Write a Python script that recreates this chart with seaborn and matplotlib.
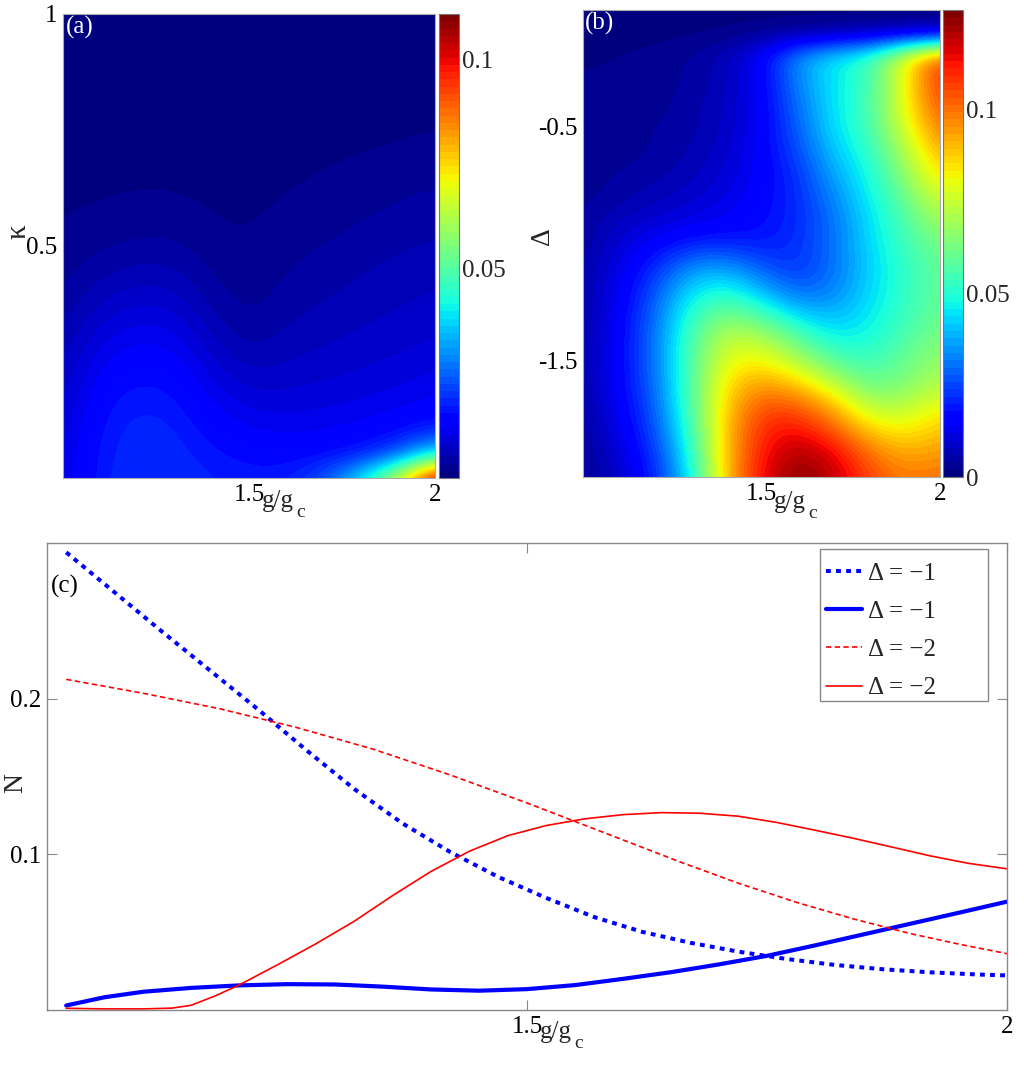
import numpy as np
import pandas as pd
import matplotlib
matplotlib.use("Agg")
import matplotlib.pyplot as plt
from matplotlib.patches import Rectangle
import seaborn as sns

# ---------------- data ----------------
# heat-map grids
g_grid = [1.0, 1.1, 1.2, 1.3, 1.4, 1.5, 1.6, 1.7, 1.8, 1.9, 2.0]
kappa_grid = [1.00, 0.95, 0.90, 0.85, 0.80, 0.75, 0.70, 0.65, 0.60, 0.55, 0.50,
              0.45, 0.40, 0.35, 0.30, 0.25, 0.20, 0.15, 0.10, 0.05, 0.00]
N_kappa = [
    [0.0010, 0.0010, 0.0010, 0.0010, 0.0010, 0.0010, 0.0010, 0.0010, 0.0010, 0.0010, 0.0010],
    [0.0010, 0.0010, 0.0010, 0.0010, 0.0010, 0.0010, 0.0010, 0.0010, 0.0010, 0.0010, 0.0010],
    [0.0010, 0.0010, 0.0010, 0.0010, 0.0010, 0.0010, 0.0010, 0.0010, 0.0010, 0.0010, 0.0010],
    [0.0010, 0.0010, 0.0010, 0.0010, 0.0010, 0.0010, 0.0010, 0.0010, 0.0010, 0.0010, 0.0011],
    [0.0010, 0.0010, 0.0010, 0.0010, 0.0010, 0.0010, 0.0010, 0.0010, 0.0011, 0.0012, 0.0013],
    [0.0011, 0.0011, 0.0011, 0.0011, 0.0011, 0.0011, 0.0011, 0.0012, 0.0013, 0.0015, 0.0017],
    [0.0012, 0.0012, 0.0012, 0.0012, 0.0012, 0.0012, 0.0013, 0.0015, 0.0017, 0.0020, 0.0023],
    [0.0013, 0.0014, 0.0015, 0.0015, 0.0013, 0.0013, 0.0015, 0.0018, 0.0022, 0.0026, 0.0030],
    [0.0015, 0.0017, 0.0019, 0.0019, 0.0015, 0.0014, 0.0018, 0.0023, 0.0028, 0.0034, 0.0040],
    [0.0017, 0.0022, 0.0027, 0.0027, 0.0018, 0.0016, 0.0022, 0.0028, 0.0035, 0.0041, 0.0047],
    [0.0021, 0.0032, 0.0039, 0.0039, 0.0023, 0.0018, 0.0027, 0.0035, 0.0042, 0.0049, 0.0055],
    [0.0026, 0.0046, 0.0057, 0.0056, 0.0031, 0.0021, 0.0034, 0.0042, 0.0050, 0.0057, 0.0063],
    [0.0033, 0.0063, 0.0076, 0.0074, 0.0041, 0.0025, 0.0040, 0.0049, 0.0057, 0.0064, 0.0071],
    [0.0042, 0.0082, 0.0098, 0.0094, 0.0054, 0.0032, 0.0048, 0.0057, 0.0065, 0.0072, 0.0079],
    [0.0052, 0.0102, 0.0120, 0.0114, 0.0071, 0.0043, 0.0058, 0.0066, 0.0073, 0.0080, 0.0088],
    [0.0062, 0.0120, 0.0141, 0.0134, 0.0089, 0.0060, 0.0070, 0.0076, 0.0083, 0.0090, 0.0099],
    [0.0071, 0.0137, 0.0160, 0.0152, 0.0108, 0.0080, 0.0084, 0.0089, 0.0096, 0.0103, 0.0113],
    [0.0079, 0.0151, 0.0175, 0.0167, 0.0127, 0.0102, 0.0100, 0.0103, 0.0110, 0.0119, 0.0133],
    [0.0087, 0.0160, 0.0185, 0.0178, 0.0145, 0.0125, 0.0119, 0.0122, 0.0131, 0.0149, 0.0185],
    [0.0095, 0.0166, 0.0190, 0.0185, 0.0162, 0.0148, 0.0142, 0.0148, 0.0170, 0.0235, 0.0420],
    [0.0100, 0.0170, 0.0193, 0.0190, 0.0176, 0.0165, 0.0170, 0.0225, 0.0390, 0.0660, 0.1080],
]
delta_grid = [0.0, -0.1, -0.2, -0.3, -0.4, -0.5, -0.6, -0.7, -0.8, -0.9, -1.0,
              -1.1, -1.2, -1.3, -1.4, -1.5, -1.6, -1.7, -1.8, -1.9, -2.0]
N_delta = [
    [0.001, 0.001, 0.001, 0.001, 0.001, 0.001, 0.001, 0.001, 0.001, 0.001, 0.001],
    [0.001, 0.001, 0.001, 0.0015, 0.002, 0.003, 0.004, 0.005, 0.006, 0.007, 0.008],
    [0.002, 0.002, 0.003, 0.004, 0.007, 0.015, 0.034, 0.045, 0.052, 0.080, 0.106],
    [0.002, 0.002, 0.003, 0.004, 0.007, 0.014, 0.033, 0.045, 0.053, 0.080, 0.110],
    [0.002, 0.002, 0.003, 0.005, 0.008, 0.014, 0.030, 0.045, 0.054, 0.080, 0.106],
    [0.002, 0.003, 0.004, 0.005, 0.008, 0.014, 0.028, 0.044, 0.054, 0.077, 0.100],
    [0.003, 0.003, 0.004, 0.006, 0.009, 0.015, 0.025, 0.041, 0.051, 0.071, 0.093],
    [0.003, 0.004, 0.005, 0.007, 0.010, 0.015, 0.022, 0.037, 0.048, 0.066, 0.086],
    [0.003, 0.005, 0.007, 0.009, 0.012, 0.016, 0.021, 0.033, 0.046, 0.060, 0.078],
    [0.004, 0.008, 0.010, 0.012, 0.014, 0.017, 0.021, 0.030, 0.044, 0.056, 0.070],
    [0.004, 0.010, 0.015, 0.020, 0.021, 0.019, 0.022, 0.030, 0.043, 0.054, 0.063],
    [0.005, 0.012, 0.021, 0.034, 0.036, 0.027, 0.022, 0.030, 0.042, 0.052, 0.060],
    [0.005, 0.013, 0.026, 0.044, 0.050, 0.039, 0.028, 0.032, 0.043, 0.052, 0.060],
    [0.005, 0.014, 0.029, 0.051, 0.063, 0.055, 0.042, 0.038, 0.045, 0.053, 0.061],
    [0.005, 0.015, 0.030, 0.055, 0.074, 0.072, 0.058, 0.046, 0.048, 0.056, 0.064],
    [0.005, 0.015, 0.030, 0.056, 0.080, 0.082, 0.072, 0.058, 0.053, 0.060, 0.068],
    [0.005, 0.015, 0.029, 0.056, 0.085, 0.095, 0.088, 0.074, 0.060, 0.064, 0.072],
    [0.004, 0.014, 0.027, 0.055, 0.088, 0.105, 0.104, 0.092, 0.072, 0.072, 0.082],
    [0.004, 0.012, 0.025, 0.052, 0.090, 0.110, 0.114, 0.104, 0.088, 0.082, 0.089],
    [0.003, 0.010, 0.022, 0.048, 0.090, 0.112, 0.122, 0.116, 0.100, 0.092, 0.095],
    [0.003, 0.008, 0.020, 0.044, 0.090, 0.114, 0.126, 0.120, 0.106, 0.098, 0.100],
]

# line curves (panel c)
g_blue_dot = [1.02, 1.07, 1.12, 1.17, 1.22, 1.27, 1.32, 1.37, 1.42, 1.47, 1.52,
              1.57, 1.62, 1.67, 1.72, 1.77, 1.82, 1.87, 1.92, 1.97, 2.00]
N_blue_dot = [0.2940, 0.2685, 0.2430, 0.2180, 0.1930, 0.1670, 0.1420, 0.1200, 0.1015, 0.0855,
              0.0720, 0.0597, 0.0502, 0.0432, 0.0375, 0.0328, 0.0290, 0.0262, 0.0242, 0.0228,
              0.0222]

g_blue_sol = [1.02, 1.06, 1.10, 1.15, 1.20, 1.25, 1.30, 1.35, 1.40, 1.45, 1.50,
              1.55, 1.60, 1.65, 1.70, 1.75, 1.80, 1.85, 1.90, 1.95, 2.00]
N_blue_sol = [0.0029, 0.0082, 0.0117, 0.0142, 0.0158, 0.0166, 0.0164, 0.0150, 0.0132, 0.0124,
              0.0134, 0.0160, 0.0200, 0.0243, 0.0293, 0.0348, 0.0415, 0.0485, 0.0555, 0.0625,
              0.0696]

g_red_dash = [1.02, 1.10, 1.18, 1.26, 1.34, 1.42, 1.50, 1.58, 1.66, 1.72, 1.78,
              1.84, 1.90, 1.95, 2.00]
N_red_dash = [0.2124, 0.2035, 0.1935, 0.1815, 0.1675, 0.1510, 0.1330, 0.1140, 0.0950, 0.0815,
              0.0693, 0.0585, 0.0490, 0.0423, 0.0362]

g_red_sol = [1.02, 1.06, 1.10, 1.13, 1.15, 1.175, 1.20, 1.24, 1.28, 1.32, 1.36, 1.40, 1.44,
             1.48, 1.52, 1.56, 1.60, 1.64, 1.68, 1.72, 1.76, 1.80, 1.84, 1.88, 1.92, 1.96, 2.00]
N_red_sol = [0.0011, 0.0007, 0.0007, 0.0012, 0.0030, 0.0090, 0.0160, 0.0290, 0.0425, 0.0570,
             0.0735, 0.0890, 0.1020, 0.1120, 0.1185, 0.1228, 0.1255, 0.1268, 0.1264, 0.1245,
             0.1205, 0.1155, 0.1103, 0.1047, 0.0990, 0.0942, 0.0907]

legend_labels = ["Δ = −1", "Δ = −1", "Δ = −2", "Δ = −2"]

# ---------------- style ----------------
sns.set_theme(style="white")
plt.rcParams["font.family"] = ["Liberation Serif", "DejaVu Serif"]
plt.rcParams["axes.unicode_minus"] = True
FS = 18

W, H = 1024, 1070
fig = plt.figure(figsize=(W / 100, H / 100), dpi=100)


def box(x0, y0, x1, y1):
    return [x0 / W, 1 - y1 / H, (x1 - x0) / W, (y1 - y0) / H]


ax_a = fig.add_axes(box(63, 14, 435, 478))
cax_a = fig.add_axes(box(439, 14, 459, 478))
ax_b = fig.add_axes(box(583, 10, 940, 477))
cax_b = fig.add_axes(box(943, 10, 963, 477))
ax_c = fig.add_axes(box(47, 543, 1007, 1010))

cmap = matplotlib.colormaps["jet"].resampled(64)

dg = g_grid[1] - g_grid[0]
dk = kappa_grid[0] - kappa_grid[1]
im_a = ax_a.imshow(np.array(N_kappa), cmap=cmap, vmin=0.0, vmax=0.111, origin="upper",
                   extent=[g_grid[0] - dg / 2, g_grid[-1] + dg / 2,
                           kappa_grid[-1] - dk / 2, kappa_grid[0] + dk / 2],
                   aspect="auto", interpolation="bicubic", interpolation_stage="data")
ax_a.set_xlim(1, 2)
ax_a.set_ylim(0, 1)

dd = delta_grid[0] - delta_grid[1]
im_b = ax_b.imshow(np.array(N_delta), cmap=cmap, vmin=0.0, vmax=0.127, origin="upper",
                   extent=[g_grid[0] - dg / 2, g_grid[-1] + dg / 2,
                           delta_grid[-1] - dd / 2, delta_grid[0] + dd / 2],
                   aspect="auto", interpolation="bicubic", interpolation_stage="data")
ax_b.set_xlim(1, 2)
ax_b.set_ylim(-2, 0)

for ax in (ax_a, ax_b):
    ax.tick_params(length=0, labelsize=FS, pad=4, colors="black")
    for sp in ax.spines.values():
        sp.set_color("#aaaaaa")
        sp.set_linewidth(0.8)
    ax.set_xticks([1.5, 2])
    ax.set_xticklabels(["1.5", "2"])

ax_a.set_yticks([0.5, 1])
ax_a.set_yticklabels(["0.5", "1"])
ax_b.set_yticks([-1.5, -0.5])
ax_b.set_yticklabels(["-1.5", "-0.5"])

cb_a = fig.colorbar(im_a, cax=cax_a, ticks=[0.05, 0.1])
cb_a.ax.set_yticklabels(["0.05", "0.1"])
cb_b = fig.colorbar(im_b, cax=cax_b, ticks=[0, 0.05, 0.1])
cb_b.ax.set_yticklabels(["0", "0.05", "0.1"])
for cb in (cb_a, cb_b):
    cb.ax.tick_params(direction="in", length=3, width=0.8, left=True, right=True,
                      labelsize=FS, pad=2, color="#333333")
    cb.outline.set_edgecolor("#777777")
    cb.outline.set_linewidth(0.8)

# ---------------- panel c ----------------
series = [
    (g_blue_dot, N_blue_dot, dict(color="#0000ff", lw=2.9, linestyle=(0, (1.2, 1.3)),
                                  dash_capstyle="butt")),
    (g_blue_sol, N_blue_sol, dict(color="#0000ff", lw=3.0, linestyle="-")),
    (g_red_dash, N_red_dash, dict(color="#ff0000", lw=1.2, linestyle=(0, (3.2, 2.0)),
                                  dash_capstyle="butt")),
    (g_red_sol, N_red_sol, dict(color="#ff0000", lw=1.2, linestyle="-")),
]
handles = []
for (gx, ny, kw), lab in zip(series, legend_labels):
    df = pd.DataFrame({"g": gx, "N": ny})
    sns.lineplot(data=df, x="g", y="N", ax=ax_c, estimator=None, sort=False,
                 legend=False, **kw)
    handles.append(ax_c.get_lines()[-1])

ax_c.set_xlim(1, 2)
ax_c.set_ylim(0, 0.3)
ax_c.set_xticks([1.5, 2])
ax_c.set_xticklabels(["1.5", "2"])
ax_c.set_yticks([0.1, 0.2])
ax_c.set_yticklabels(["0.1", "0.2"])
ax_c.set_xlabel("")
ax_c.set_ylabel("")
ax_c.tick_params(direction="in", length=7, width=0.8, color="#888888", labelsize=FS,
                 pad=4, top=True, right=True, bottom=True, left=True, labelcolor="black")
for sp in ax_c.spines.values():
    sp.set_color("#888888")
    sp.set_linewidth(1.0)

leg = ax_c.legend(handles, legend_labels, loc="upper left",
                  bbox_to_anchor=(826 / W, 1 - 562 / H), bbox_transform=fig.transFigure,
                  frameon=False, fontsize=FS, handlelength=1.45, handletextpad=0.25,
                  labelspacing=0.63, borderpad=0, borderaxespad=0)
fig.add_artist(Rectangle((820 / W, 1 - 701 / H), 168 / W, 152 / H, transform=fig.transFigure,
                         fill=False, edgecolor="#888888", lw=1.0))

# ---------------- texts ----------------
def ptext(x, y, s, **kw):
    fig.text(x / W, 1 - y / H, s, **kw)

ptext(66, 16, "(a)", color="white", fontsize=FS, ha="left", va="top")
ptext(585, 12, "(b)", color="white", fontsize=FS, ha="left", va="top")
ptext(51, 575, "(c)", color="black", fontsize=FS, ha="left", va="top")

ptext(18, 232, "κ", fontsize=21, rotation=90, ha="center", va="center")
ptext(542, 236, "Δ", fontsize=20, rotation=90, ha="center", va="center")
ptext(16, 783, "N", fontsize=20, rotation=90, ha="center", va="center")

for x0, yb in ((262, 507), (774, 508), (540, 1038)):
    ptext(x0, yb, "g/g", fontsize=FS, ha="left", va="baseline")
    ptext(x0 + 34, yb + 10, "c", fontsize=14, ha="left", va="baseline")

fig.savefig("out.png", dpi=100)
